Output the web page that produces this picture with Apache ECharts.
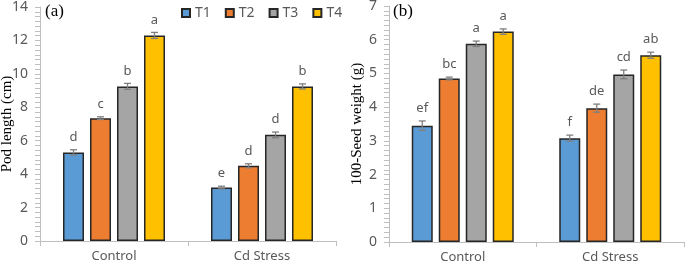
<!DOCTYPE html>
<html>
<head>
<meta charset="utf-8">
<script src="https://cdn.jsdelivr.net/npm/echarts@6/dist/echarts.min.js"></script>
<style>html,body{margin:0;padding:0;background:#fff}#c{width:685px;height:264px}</style>
</head>
<body>
<div id="c"></div>
<script>
const categories = ['Control', 'Cd Stress'];
const seriesNames = ['T1', 'T2', 'T3', 'T4'];
const colors = ['#5b9bd5', '#ed7d31', '#a5a5a5', '#ffc000'];

// (a) Pod length (cm)
const podT1 = [5.3, 3.2];
const podT2 = [7.35, 4.5];
const podT3 = [9.25, 6.35];
const podT4 = [12.3, 9.25];
const podErrT1 = [0.16, 0.08];
const podErrT2 = [0.08, 0.12];
const podErrT3 = [0.18, 0.17];
const podErrT4 = [0.18, 0.15];
const podLetT1 = ['d', 'e'];
const podLetT2 = ['c', 'd'];
const podLetT3 = ['b', 'd'];
const podLetT4 = ['a', 'b'];

// (b) 100-Seed weight (g)
const seedT1 = [3.45, 3.08];
const seedT2 = [4.85, 3.97];
const seedT3 = [5.88, 4.97];
const seedT4 = [6.24, 5.54];
const seedErrT1 = [0.14, 0.09];
const seedErrT2 = [0.04, 0.12];
const seedErrT3 = [0.08, 0.13];
const seedErrT4 = [0.08, 0.09];
const seedLetT1 = ['ef', 'f'];
const seedLetT2 = ['bc', 'de'];
const seedLetT3 = ['a', 'cd'];
const seedLetT4 = ['a', 'ab'];

const podTicks = [0, 2, 4, 6, 8, 10, 12, 14];
const seedTicks = [0, 1, 2, 3, 4, 5, 6, 7];

const podVals = [podT1, podT2, podT3, podT4];
const podErrs = [podErrT1, podErrT2, podErrT3, podErrT4];
const podLets = [podLetT1, podLetT2, podLetT3, podLetT4];
const seedVals = [seedT1, seedT2, seedT3, seedT4];
const seedErrs = [seedErrT1, seedErrT2, seedErrT3, seedErrT4];
const seedLets = [seedLetT1, seedLetT2, seedLetT3, seedLetT4];

const BAR_W = 21, BAR_PITCH = 27;
const grey = '#595959';
const axisGrey = '#bfbfbf';
const sans = 'Noto Sans';
const serif = 'Liberation Serif';

function bars(vals, idx) {
  return vals.map((v, i) => ({
    name: seriesNames[i], type: 'bar', xAxisIndex: idx, yAxisIndex: idx,
    data: v, barWidth: BAR_W, barGap: (100 * (BAR_PITCH - BAR_W) / BAR_W).toFixed(2) + '%',
    itemStyle: { color: colors[i], borderColor: '#262626', borderWidth: 1.5 }
  }));
}

function errSeries(vals, errs, lets, idx) {
  const data = [];
  vals.forEach((v, s) => v.forEach((y, c) => data.push([c, y, errs[s][c], s, lets[s][c]])));
  return {
    type: 'custom', xAxisIndex: idx, yAxisIndex: idx, z: 10,
    encode: { x: 0, y: 1 },
    data: data,
    renderItem: function (params, api) {
      const c = api.value(0), y = api.value(1), e = api.value(2), s = api.value(3);
      const letter = data[params.dataIndex][4];
      const p = api.coord([c, y]);
      const x = p[0] + (s - 1.5) * BAR_PITCH;
      const top = api.coord([c, y + e])[1];
      const bot = api.coord([c, y - e])[1];
      const st = { stroke: '#7f7f7f', lineWidth: 1.3 };
      return {
        type: 'group', children: [
          { type: 'line', shape: { x1: x, y1: top, x2: x, y2: bot }, style: st },
          { type: 'line', shape: { x1: x - 3.5, y1: top, x2: x + 3.5, y2: top }, style: st },
          { type: 'line', shape: { x1: x - 3.5, y1: bot, x2: x + 3.5, y2: bot }, style: st },
          { type: 'text', style: { text: letter, x: x, y: top - 6, align: 'center', verticalAlign: 'bottom',
              fill: grey, font: '13px "' + sans + '"' } }
        ]
      };
    }
  };
}

function yAx(idx, max, interval, name, gap) {
  return {
    gridIndex: idx, type: 'value', min: 0, max: max, interval: interval,
    name: name, nameLocation: 'middle', nameRotate: 90, nameGap: gap, nameMoveOverlap: false,
    nameTextStyle: { fontFamily: serif, fontSize: 15, color: '#000' },
    axisLine: { show: true, lineStyle: { color: axisGrey, width: 1 } },
    axisTick: { show: true, length: 5, lineStyle: { color: axisGrey } },
    minorTick: { show: true, splitNumber: 7, length: 5, lineStyle: { color: axisGrey } },
    splitLine: { show: false },
    axisLabel: { color: grey, fontFamily: sans, fontSize: 14, margin: 12 }
  };
}

function xAx(idx) {
  return {
    gridIndex: idx, type: 'category', data: categories,
    axisLine: { lineStyle: { color: axisGrey, width: 1 } },
    axisTick: { show: true, length: 5, lineStyle: { color: axisGrey } },
    axisLabel: { color: grey, fontFamily: sans, fontSize: 13, margin: 9 }
  };
}

const chart = echarts.init(document.getElementById('c'));
chart.setOption({
  animation: false,
  legend: {
    data: seriesNames, left: 176, top: 1, icon: 'rect', itemWidth: 8, itemHeight: 8, itemGap: 14,
    textStyle: { color: grey, fontFamily: sans, fontSize: 14 }
  },
  grid: [
    { left: 40, right: 349, top: 7, bottom: 23, outerBoundsMode: 'none', containLabel: false },
    { left: 389, right: 1, top: 6, bottom: 22, outerBoundsMode: 'none', containLabel: false }
  ],
  xAxis: [xAx(0), xAx(1)],
  yAxis: [yAx(0, podTicks[podTicks.length - 1], podTicks[1] - podTicks[0], 'Pod length (cm)', 25),
          yAx(1, seedTicks[seedTicks.length - 1], seedTicks[1] - seedTicks[0], '100-Seed weight (g)', 24)],
  graphic: [
    { type: 'text', left: 45, top: 3, style: { text: '(a)', font: '17px "' + serif + '"', fill: '#000' } },
    { type: 'text', left: 393, top: 3, style: { text: '(b)', font: '17px "' + serif + '"', fill: '#000' } }
  ],
  series: [].concat(bars(podVals, 0), bars(seedVals, 1),
    [errSeries(podVals, podErrs, podLets, 0), errSeries(seedVals, seedErrs, seedLets, 1)])
});
</script>
</body>
</html>
